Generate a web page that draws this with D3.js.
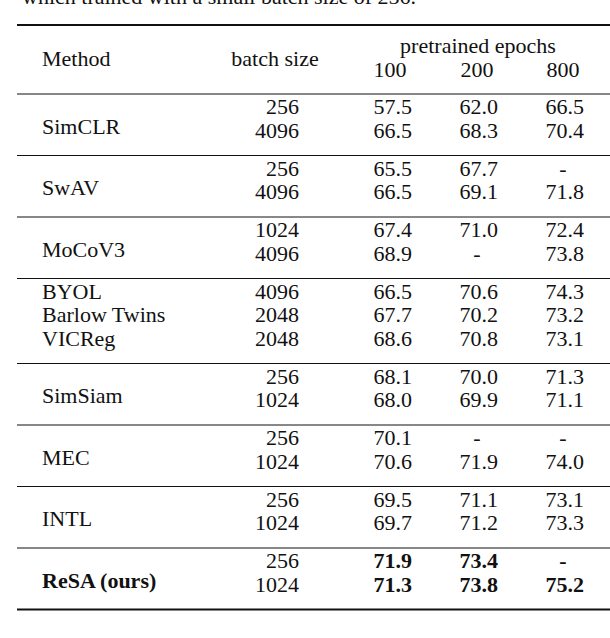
<!DOCTYPE html>
<html><head><meta charset="utf-8">
<script src="https://cdn.jsdelivr.net/npm/d3@7"></script>
<style>body{margin:0;background:#fff}text{font-family:"Liberation Serif",serif;font-size:22px;fill:#111}</style>
</head><body><svg id="t" width="610" height="638"></svg>
<script>
// groups of methods, each with rows [batch, e100, e200, e800]
var methods = ["SimCLR", "SwAV", "MoCoV3", "BYOL|Barlow Twins|VICReg", "SimSiam", "MEC", "INTL", "ReSA (ours)"];
var batches = [["256","4096"],["256","4096"],["1024","4096"],["4096","2048","2048"],["256","1024"],["256","1024"],["256","1024"],["256","1024"]];
var e100 = [["57.5","66.5"],["65.5","66.5"],["67.4","68.9"],["66.5","67.7","68.6"],["68.1","68.0"],["70.1","70.6"],["69.5","69.7"],["71.9","71.3"]];
var e200 = [["62.0","68.3"],["67.7","69.1"],["71.0","-"],["70.6","70.2","70.8"],["70.0","69.9"],["-","71.9"],["71.1","71.2"],["73.4","73.8"]];
var e800 = [["66.5","70.4"],["-","71.8"],["72.4","73.8"],["74.3","73.2","73.1"],["71.3","71.1"],["-","74.0"],["73.1","73.3"],["-","75.2"]];
var epochLabels = ["100","200","800"];

var svg = d3.select("#t");
svg.append("text").attr("x", 22).attr("y", 4).text("which trained with a small batch size of 256.");
var colX = d3.scaleOrdinal().domain(epochLabels).range([412, 498, 584]);
var colC = d3.scaleOrdinal().domain(epochLabels).range([390, 477, 563]);

function rule(y, w) { svg.append("line").attr("x1", 17).attr("x2", 610).attr("y1", y).attr("y2", y).attr("stroke", "#111").attr("stroke-width", w); }
rule(25, 2);
svg.append("text").attr("x", 42).attr("y", 66).text("Method");
svg.append("text").attr("x", 275).attr("y", 66).attr("text-anchor", "middle").text("batch size");
svg.append("text").attr("x", 478).attr("y", 53).attr("text-anchor", "middle").text("pretrained epochs");
epochLabels.forEach(function (e) { svg.append("text").attr("x", colC(e)).attr("y", 77).attr("text-anchor", "middle").text(e); });
rule(94, 1);

var y = 94;
methods.forEach(function (m, gi) {
  var n = batches[gi].length, top = y + 20, bold = gi === methods.length - 1;
  var names = m.split("|");
  if (names.length > 1) names.forEach(function (nm, i) { svg.append("text").attr("x", 42).attr("y", top + i * 23.5).text(nm); });
  else svg.append("text").attr("x", 42).attr("y", top + (n - 1) * 23.5 / 2 + 8).attr("font-weight", bold ? "bold" : null).text(m);
  for (var i = 0; i < n; i++) {
    var by = top + i * 23.5;
    svg.append("text").attr("x", 299).attr("y", by).attr("text-anchor", "end").text(batches[gi][i]);
    [e100, e200, e800].forEach(function (arr, k) {
      var v = arr[gi][i], e = epochLabels[k];
      var t = svg.append("text").attr("y", by).text(v).attr("font-weight", bold ? "bold" : null);
      if (v === "-") t.attr("x", colC(e)).attr("text-anchor", "middle");
      else t.attr("x", colX(e)).attr("text-anchor", "end");
    });
  }
  y = top + (n - 1) * 23.5 + 18;
  rule(y, gi === methods.length - 1 ? 2 : 1);
});
</script></body></html>
